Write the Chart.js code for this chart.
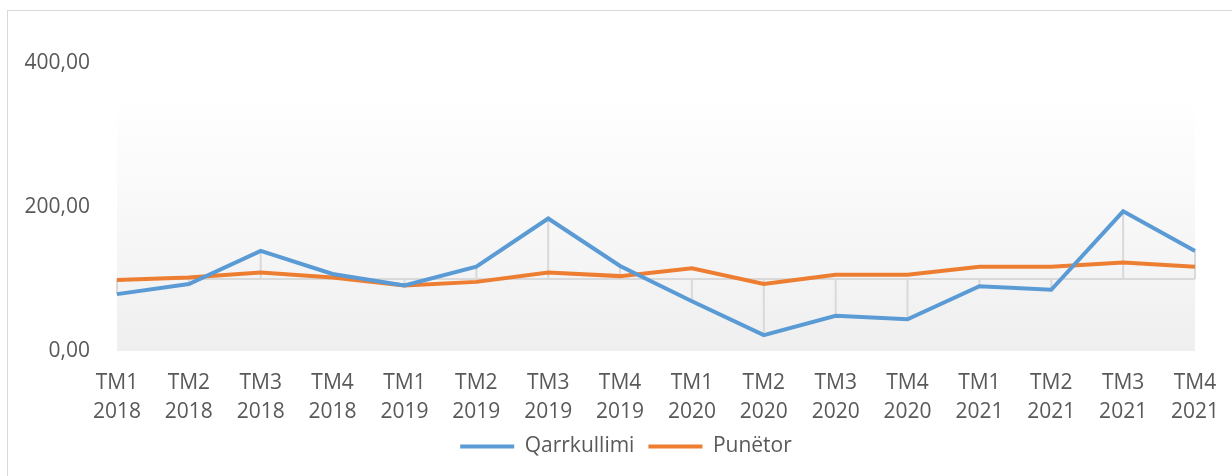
<!DOCTYPE html>
<html>
<head>
<meta charset="utf-8">
<script src="https://cdn.jsdelivr.net/npm/chart.js@4/dist/chart.umd.min.js"></script>
<style>
  html, body { margin: 0; padding: 0; background: #fff; }
  #wrap { position: relative; width: 1232px; height: 476px; }
  #frame { position: absolute; left: 7px; top: 10px; width: 1240px; height: 480px; border: 1px solid #d9d9d9; box-sizing: border-box; pointer-events: none; }
</style>
</head>
<body>
<div id="wrap">
  <canvas id="c" width="1232" height="476"></canvas>
  <div id="frame"></div>
</div>
<script>
const quarters = ["TM1","TM2","TM3","TM4","TM1","TM2","TM3","TM4","TM1","TM2","TM3","TM4","TM1","TM2","TM3","TM4"];
const years = ["2018","2018","2018","2018","2019","2019","2019","2019","2020","2020","2020","2020","2021","2021","2021","2021"];
const qarrkullimi = [79, 93, 139, 107, 91, 117, 184, 118, 69, 22, 49, 44, 90, 85, 194, 139];
const punetor = [98.5, 102, 109, 102, 91, 96, 109, 104, 115, 93, 106, 106, 117, 117, 123, 117];
const yTicks = [0, 200, 400];
const refLine = 100;

const labels = quarters.map((q, i) => [q, years[i]]);

const floorPlugin = {
  id: 'floor',
  beforeDatasetsDraw(chart) {
    const { ctx, chartArea } = chart;
    const x = chart.scales.x, y = chart.scales.y;
    const top = y.getPixelForValue(348);
    const bottom = chartArea.bottom;
    const g = ctx.createLinearGradient(0, top, 0, bottom);
    g.addColorStop(0, '#ffffff');
    g.addColorStop(1, '#efefef');
    ctx.save();
    ctx.fillStyle = g;
    ctx.fillRect(chartArea.left, top, chartArea.right - chartArea.left, bottom - top);
    ctx.strokeStyle = '#d9d9d9';
    ctx.lineWidth = 2;
    const yr = y.getPixelForValue(refLine);
    ctx.beginPath();
    ctx.moveTo(chartArea.left, yr);
    ctx.lineTo(chartArea.right, yr);
    ctx.stroke();
    qarrkullimi.forEach((v, i) => {
      const px = x.getPixelForValue(i);
      ctx.beginPath();
      ctx.moveTo(px, yr);
      ctx.lineTo(px, y.getPixelForValue(v));
      ctx.stroke();
    });
    ctx.restore();
  }
};

new Chart(document.getElementById('c'), {
  type: 'line',
  data: {
    labels,
    datasets: [
      { label: 'Qarrkullimi', data: qarrkullimi, borderColor: '#5b9bd5', backgroundColor: '#5b9bd5', borderWidth: 4, pointRadius: 0, pointStyle: 'line', tension: 0 },
      { label: 'Punëtor', data: punetor, borderColor: '#ed7d31', backgroundColor: '#ed7d31', borderWidth: 4, pointRadius: 0, pointStyle: 'line', tension: 0 }
    ]
  },
  options: {
    responsive: false,
    animation: false,
    layout: { padding: { left: 20, right: 0, top: 63, bottom: 9 } },
    font: { family: 'Open Sans' },
    scales: {
      x: {
        offset: false,
        grid: { display: false, drawTicks: false },
        border: { display: false },
        ticks: { color: '#595959', font: { family: 'Open Sans', size: 21, lineHeight: 1.38 }, padding: 18, maxRotation: 0, autoSkip: false },
        afterFit(s) { s.height = 71; s.paddingRight = 37; s.paddingLeft = 0; }
      },
      y: {
        min: 0, max: 400,
        afterBuildTicks(s) { s.ticks = yTicks.map(v => ({ value: v })); },
        grid: { display: false, drawTicks: false },
        border: { display: false },
        ticks: { color: '#595959', font: { family: 'Open Sans', size: 21 }, padding: 27,
          callback: v => v.toFixed(2).replace('.', ',') },
        afterFit(s) { s.width = 97; }
      }
    },
    plugins: {
      legend: {
        position: 'bottom',
        labels: { color: '#595959', font: { family: 'Open Sans', size: 21 }, usePointStyle: true, pointStyleWidth: 54, padding: 14 }
      },
      tooltip: { enabled: false }
    }
  },
  plugins: [floorPlugin]
});
</script>
</body>
</html>
